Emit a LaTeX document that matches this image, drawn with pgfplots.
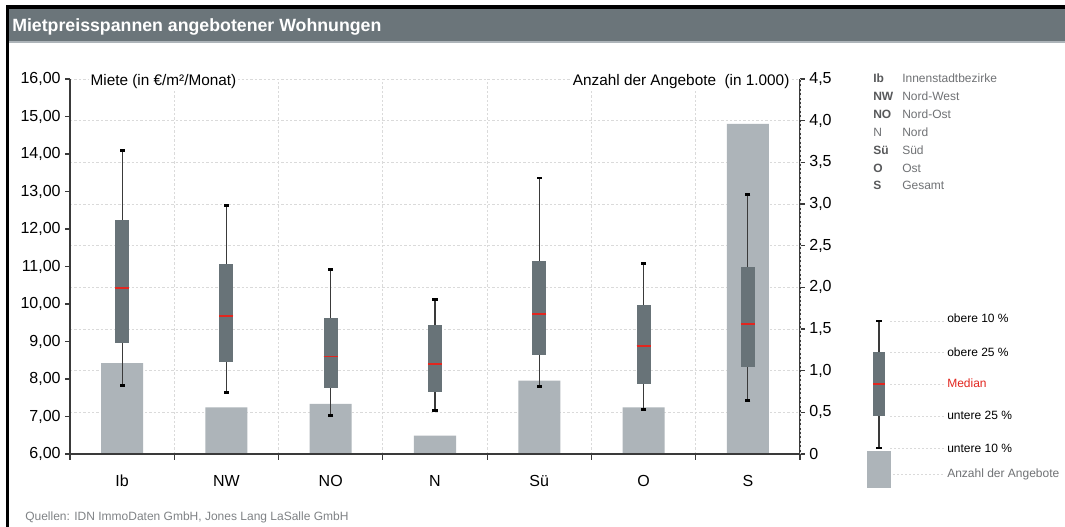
\documentclass[border=0pt]{standalone}
\usepackage{fontspec}
\setmainfont{Liberation Sans}
\newfontfamily\titlefont{Liberation Sans}
\usepackage{pgfplots}
\usepackage{pgfplotstable}
\pgfplotsset{compat=1.18}
\usepgfplotslibrary{statistics}
\definecolor{band}{HTML}{6B757A}
\definecolor{boxcol}{HTML}{687378}
\definecolor{barcol}{HTML}{ADB4B9}
\definecolor{medred}{HTML}{E2261F}
\definecolor{axcol}{HTML}{3A3A3A}
\definecolor{gridcol}{HTML}{DADADA}
\definecolor{legdark}{HTML}{58595B}
\definecolor{leggray}{HTML}{707275}
\definecolor{srcgray}{HTML}{808386}

\pgfplotstableread{
pos lw   lq   med   uq    uw    cnt
0   7.83 8.97 10.43 12.24 14.10 1.09
1   7.65 8.46 9.68  11.07 12.63 0.56
2   7.03 7.77 8.60  9.62  10.93 0.60
3   7.15 7.65 8.40  9.44  10.11 0.22
4   7.79 8.64 9.73  11.15 13.36 0.88
5   7.19 7.87 8.88  9.97  11.09 0.56
6   7.43 8.32 9.47  10.99 12.93 3.96
}\boxdata

\pgfplotsset{
  mainax/.style={
    at={(52.5pt,-340.5pt)}, anchor=south west,
    scale only axis, width=547.5pt, height=281.25pt,
    xmin=-0.5, xmax=6.5,
    axis line style={draw=axcol, line width=0.9pt},
    tick style={draw=axcol, line width=0.8pt},
    tick align=outside, major tick length=3.5pt,
    tick label style={font=\fontsize{12}{14}\selectfont, text=black},
  },
  capstyle/.style={only marks, mark=-, mark size=1.9pt,
    mark options={draw=black, line width=2.2pt}},
  boxstyle/.style={draw=none, fill=boxcol,
    boxplot/draw direction=y,
    boxplot/every box/.style={draw=none, fill=boxcol},
    boxplot/every median/.style={draw=medred, line width=1.4pt},
    boxplot/every whisker/.style={draw=axcol, line width=0.8pt}},
}

\newcommand\getval[2]{\pgfplotstablegetelem{#1}{#2}\of\boxdata\let\cur\pgfplotsretval}

\begin{document}
\begin{tikzpicture}
\begin{scope}[x=0.75pt,y=-0.75pt]
  \fill[white] (0,0) rectangle (1065,527);
  \fill[black] (6,5) rectangle (1065,9);
  \fill[black] (6,5) rectangle (9,527);
  \fill[band] (9,9) rectangle (1065,41);
  \fill[barcol] (9,41) rectangle (1065,43);
  \node[anchor=base west, inner sep=0pt, text=white, font=\titlefont\bfseries\fontsize{13.3}{16}\selectfont] at (12,32) {Mietpreisspannen angebotener Wohnungen};
\end{scope}

% bars on right axis with grid
\begin{axis}[mainax,
  ymin=0, ymax=4.5,
  axis y line*=right, axis x line*=bottom,
  ytick={0,0.5,...,4.5},
  yticklabels={0,{0,5},{1,0},{1,5},{2,0},{2,5},{3,0},{3,5},{4,0},{4,5}},
  xtick=\empty,
  extra x ticks={-0.5,0.5,1.5,2.5,3.5,4.5,5.5,6.5},
  extra x tick labels={},
  extra x tick style={grid=major, major tick length=4.5pt},
  ymajorgrids,
  grid style={draw=gridcol, line width=0.6pt, dash pattern=on 1.8pt off 1.5pt},
]
\addplot[ybar, bar width=0.403, fill=barcol, draw=none] table[x=pos, y=cnt] {\boxdata};
\end{axis}

% box plots on left axis
\begin{axis}[mainax,
  ymin=6, ymax=16,
  axis y line*=left, axis x line*=bottom,
  ytick={6,...,16},
  yticklabels={{6,00},{7,00},{8,00},{9,00},{10,00},{11,00},{12,00},{13,00},{14,00},{15,00},{16,00}},
  xtick={0,...,6},
  xticklabels={Ib,NW,NO,N,Sü,O,S},
  xtick style={draw=none},
  xticklabel style={anchor=base, yshift=-21pt},
]
\pgfplotsforeachungrouped \r in {0,...,6}{
  \getval{\r}{lw}\let\vlw\cur
  \getval{\r}{lq}\let\vlq\cur
  \getval{\r}{med}\let\vmed\cur
  \getval{\r}{uq}\let\vuq\cur
  \getval{\r}{uw}\let\vuw\cur
  \edef\doplot{\noexpand\addplot[boxstyle,
    boxplot prepared={draw position=\r, lower whisker=\vlw, lower quartile=\vlq,
      median=\vmed, upper quartile=\vuq, upper whisker=\vuw,
      box extend=0.134, whisker extend=0.01}] coordinates {};}
  \doplot
}
\addplot[capstyle] table[x=pos, y=lw] {\boxdata};
\addplot[capstyle] table[x=pos, y=uw] {\boxdata};
\end{axis}

% legend key
\begin{axis}[at={(648pt,-375pt)}, anchor=south west,
  scale only axis, width=22.5pt, height=150pt,
  xmin=-1, xmax=1, ymin=-500, ymax=-300, hide axis, clip=false]
\addplot[fill=barcol, draw=none] coordinates {(-0.8,-488) (0.8,-488) (0.8,-451) (-0.8,-451)} -- cycle;
\addplot[boxstyle,
  boxplot prepared={draw position=0, lower whisker=-448, lower quartile=-416,
    median=-384, upper quartile=-352, upper whisker=-321,
    box extend=0.8, whisker extend=0.01}] coordinates {};
\addplot[capstyle] coordinates {(0,-448) (0,-321)};
\end{axis}

\begin{scope}[x=0.75pt,y=-0.75pt]
  % axis titles
  \node[anchor=base west, fill=white, inner sep=1pt, font=\fontsize{11.5}{13}\selectfont] at (89,86) {Miete (in €/m²/Monat)};
  \node[anchor=base east, fill=white, inner sep=1pt, font=\fontsize{11.5}{13}\selectfont] at (791,86) {Anzahl der Angebote\ \ (in 1.000)};
  % district legend
  \foreach \ab/\nm/\bf [count=\i from 0] in {Ib/Innenstadtbezirke/1, NW/Nord-West/1, NO/Nord-Ost/1, N/Nord/0, Sü/Süd/1, O/Ost/1, S/Gesamt/1} {
    \pgfmathsetmacro{\yy}{83+17.83*\i}
    \ifnum\bf=1
      \node[anchor=base west, inner sep=0pt, text=legdark, font=\fontsize{9}{11}\selectfont\bfseries] at (873,\yy) {\ab};
    \else
      \node[anchor=base west, inner sep=0pt, text=leggray, font=\fontsize{9}{11}\selectfont] at (873,\yy) {\ab};
    \fi
    \node[anchor=base west, inner sep=0pt, text=leggray, font=\fontsize{9}{11}\selectfont] at (902,\yy) {\nm};
  }
  % key legend
  \foreach \yy in {321,352,384,416,448} {
    \draw[gridcol, line width=0.6pt, dash pattern=on 1.5pt off 1.5pt] (890,\yy) -- (944,\yy);
  }
  \draw[gridcol, line width=0.6pt, dash pattern=on 1.5pt off 1.5pt] (893,474) -- (944,474);
  \begin{scope}[every node/.style={anchor=base west, inner sep=0pt, font=\fontsize{9}{11}\selectfont}]
    \node at (947,323) {obere 10 \%};
    \node at (947,357) {obere 25 \%};
    \node[text=medred] at (947,388) {Median};
    \node at (947,420) {untere 25 \%};
    \node at (947,453) {untere 10 \%};
    \node[text=leggray] at (947,478) {Anzahl der Angebote};
  \end{scope}
  \node[anchor=base west, inner sep=0pt, text=srcgray, font=\fontsize{9}{11}\selectfont] at (25,521) {Quellen: IDN ImmoDaten GmbH, Jones Lang LaSalle GmbH};
  \path (0,0) rectangle (1065,527);
\end{scope}
\end{tikzpicture}
\end{document}
